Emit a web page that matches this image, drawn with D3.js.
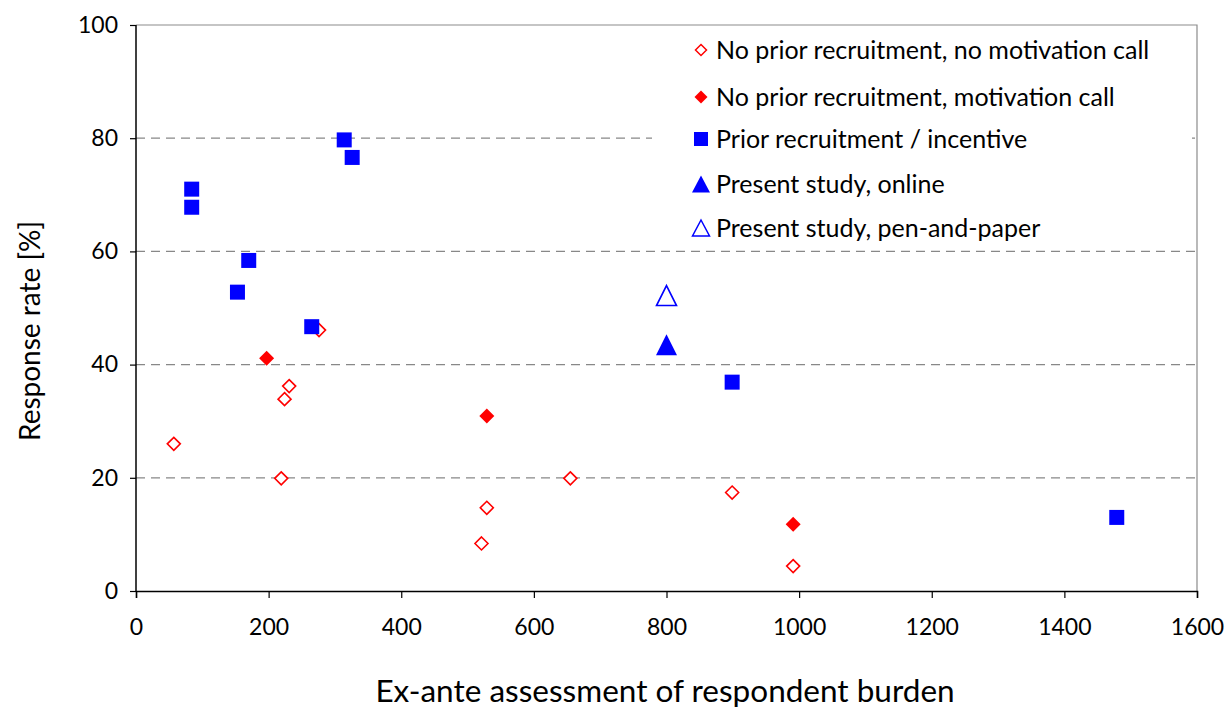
<!DOCTYPE html>
<html><head><meta charset="utf-8">
<script src="https://cdn.jsdelivr.net/npm/d3@7"></script>
<style>body{margin:0;background:#fff}svg{display:block}text{font-family:Lato,"Open Sans",sans-serif;fill:#000}</style>
</head><body><svg id="c" width="1226" height="710"></svg>
<script>
// Data
const openDiamondX = [57, 231, 224, 219, 276, 529, 521, 655, 899, 991];
const openDiamondY = [26.0, 36.2, 33.9, 19.9, 46.1, 14.7, 8.4, 19.9, 17.4, 4.4];
const filledDiamondX = [197, 529, 991];
const filledDiamondY = [41.1, 30.9, 11.8];
const squareX = [84, 84, 314, 326, 170, 153, 265, 899, 1479];
const squareY = [71.0, 67.8, 79.7, 76.6, 58.4, 52.8, 46.7, 36.9, 13.0];
const onlineX = [800];
const onlineY = [43.5];
const paperX = [800];
const paperY = [52.2];
const xTicks = [0, 200, 400, 600, 800, 1000, 1200, 1400, 1600];
const yTicks = [0, 20, 40, 60, 80, 100];
const legendLabels = ["No prior recruitment, no motivation call", "No prior recruitment, motivation call",
  "Prior recruitment / incentive", "Present study, online", "Present study, pen-and-paper"];

const svg = d3.select("#c");
const L = 136, R = 1197, T = 25, B = 591;
const x = d3.scaleLinear().domain([0, 1600]).range([L, R]);
const y = d3.scaleLinear().domain([0, 100]).range([B, T]);

// marker path builders
const diamond = s => `M0,${-s/2}L${s/2},0L0,${s/2}L${-s/2},0Z`;
const square = s => `M${-s/2},${-s/2}h${s}v${s}h${-s}Z`;
const triangle = (w, h) => `M0,${-h/2}L${w/2},${h/2}L${-w/2},${h/2}Z`;

// frame (top/right grey)
svg.append("path").attr("d", `M${L},${T}H${R}V${B}`).attr("fill", "none").attr("stroke", "#8c8c8c").attr("stroke-width", 1.2);

// gridlines
svg.append("g").selectAll("line").data(yTicks.filter(v => v > 0 && v < 100)).join("line")
  .attr("x1", L).attr("x2", R).attr("y1", d => y(d)).attr("y2", d => y(d))
  .attr("stroke", "#888").attr("stroke-width", 1.2).attr("stroke-dasharray", "9,6");

// legend background
const legend = svg.append("g");
legend.append("rect").attr("x", 652).attr("y", 27).attr("width", 1192 - 652).attr("height", 218).attr("fill", "#fff");

// axes
const xAxis = svg.append("g").attr("transform", `translate(0,${B})`)
  .call(d3.axisBottom(x).tickValues(xTicks).tickSize(7).tickPadding(21).tickFormat(d3.format("d")));
const yAxis = svg.append("g").attr("transform", `translate(${L},0)`)
  .call(d3.axisLeft(y).tickValues(yTicks).tickSize(6).tickPadding(12).tickFormat(d3.format("d")));
[xAxis, yAxis].forEach(g => {
  g.select(".domain").attr("stroke", "#000").attr("stroke-width", 1.5);
  g.selectAll(".tick line").attr("stroke", "#000").attr("stroke-width", 1.2);
  g.selectAll(".tick text").attr("font-size", 23).attr("font-family", "Lato").attr("fill", "#000");
});
yAxis.select(".domain").attr("d", `M0,${T}V${B}`);
xAxis.selectAll(".tick text").attr("dy", "0.71em");

// titles
svg.append("text").attr("x", 665).attr("y", 702).attr("text-anchor", "middle").attr("font-size", 31.5)
  .text("Ex-ante assessment of respondent burden");
svg.append("text").attr("transform", `translate(40,331) rotate(-90)`).attr("text-anchor", "middle")
  .attr("font-size", 28).text("Response rate [%]");

// marks
const marks = svg.append("g");
const pts = (xs, ys) => xs.map((v, i) => [v, ys[i]]);
marks.selectAll(".od").data(pts(openDiamondX, openDiamondY)).join("path")
  .attr("transform", d => `translate(${x(d[0])},${y(d[1])})`).attr("d", diamond(13))
  .attr("fill", "#fff").attr("stroke", "#ff0000").attr("stroke-width", 1.6);
marks.selectAll(".fd").data(pts(filledDiamondX, filledDiamondY)).join("path")
  .attr("transform", d => `translate(${x(d[0])},${y(d[1])})`).attr("d", diamond(15))
  .attr("fill", "#ff0000");
marks.selectAll(".sq").data(pts(squareX, squareY)).join("path")
  .attr("transform", d => `translate(${x(d[0])},${y(d[1])})`).attr("d", square(15))
  .attr("fill", "#0000ff");
marks.selectAll(".to").data(pts(onlineX, onlineY)).join("path")
  .attr("transform", d => `translate(${x(d[0])},${y(d[1])})`).attr("d", triangle(21, 21))
  .attr("fill", "#0000ff");
marks.selectAll(".tp").data(pts(paperX, paperY)).join("path")
  .attr("transform", d => `translate(${x(d[0])},${y(d[1])})`).attr("d", triangle(20, 20))
  .attr("fill", "#fff").attr("stroke", "#0000ff").attr("stroke-width", 1.6);

// legend items
const legendY = [50, 97, 139, 184, 228];
const legendMarks = [
  {d: diamond(11), fill: "#fff", stroke: "#ff0000"},
  {d: diamond(13), fill: "#ff0000", stroke: "none"},
  {d: square(14), fill: "#0000ff", stroke: "none"},
  {d: triangle(18, 17), fill: "#0000ff", stroke: "none"},
  {d: triangle(17, 16), fill: "#fff", stroke: "#0000ff"}
];
legendLabels.forEach((lab, i) => {
  legend.append("path").attr("transform", `translate(701,${legendY[i]})`).attr("d", legendMarks[i].d)
    .attr("fill", legendMarks[i].fill).attr("stroke", legendMarks[i].stroke).attr("stroke-width", 1.5);
  legend.append("text").attr("x", 716).attr("y", legendY[i]).attr("dy", "0.35em").attr("font-size", 25).text(lab);
});
</script></body></html>
